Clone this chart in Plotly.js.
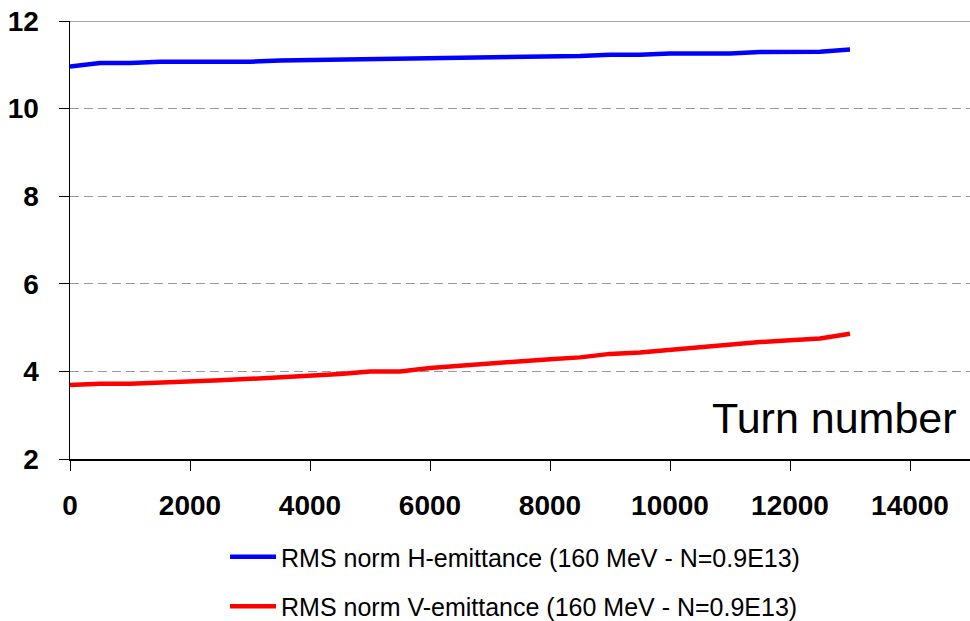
<!DOCTYPE html>
<html>
<head>
<meta charset="utf-8">
<script src="https://cdn.plot.ly/plotly-3.0.1.min.js"></script>
<style>
html,body{margin:0;padding:0;background:#fff;}
#chart{width:970px;height:621px;}
</style>
</head>
<body>
<div id="chart"></div>
<script>
const turns = [0,500,1000,1500,2000,2500,3000,3500,4000,4500,5000,5500,6000,6500,7000,7500,8000,8500,9000,9500,10000,10500,11000,11500,12000,12500,13000];
const hEmit = [10.96,11.04,11.04,11.07,11.07,11.07,11.07,11.10,11.11,11.11,11.14,11.14,11.14,11.17,11.17,11.17,11.20,11.20,11.23,11.23,11.26,11.26,11.26,11.29,11.29,11.30,11.35];
const vEmit = [3.69,3.72,3.72,3.755,3.77,3.80,3.83,3.86,3.89,3.94,4.00,4.00,4.08,4.13,4.18,4.25,4.28,4.32,4.40,4.43,4.49,4.56,4.60,4.67,4.71,4.75,4.86];
const seriesNames = ["RMS norm H-emittance (160 MeV - N=0.9E13)", "RMS norm V-emittance (160 MeV - N=0.9E13)"];
const axisLabel = "Turn number";

const FONT = '"Liberation Sans", Arial, sans-serif';

const traces = [
  {x: turns, y: hEmit, name: seriesNames[0], type: 'scatter', mode: 'lines',
   line: {color: '#0000FF', width: 4.5}, legendgroup: 'h'},
  {x: turns, y: vEmit, name: seriesNames[1], type: 'scatter', mode: 'lines',
   line: {color: '#FF0000', width: 4.5}, legendgroup: 'v'}
];

const layout = {
  width: 970, height: 621,
  margin: {l: 70, r: 0, t: 21, b: 162, autoexpand: false},
  paper_bgcolor: '#fff', plot_bgcolor: '#fff',
  font: {family: FONT, color: '#000'},
  xaxis: {
    range: [0, 15000], dtick: 2000, tick0: 0, tickformat: 'd',
    showgrid: false, zeroline: false, automargin: false,
    showline: true, linecolor: '#000', linewidth: 1.5,
    ticks: 'outside', ticklen: 10, tickcolor: '#000', tickwidth: 1,
    ticklabelstandoff: 11, tickangle: 0,
    tickfont: {family: FONT, size: 28, color: '#000', weight: 'bold'}
  },
  yaxis: {
    range: [2, 12], dtick: 2, tick0: 2, automargin: false,
    showgrid: true, gridcolor: '#999', griddash: '9px,5px', gridwidth: 1,
    zeroline: false,
    showline: true, linecolor: '#000', linewidth: 1.5,
    ticks: 'outside', ticklen: 10, tickcolor: '#000', tickwidth: 1,
    ticklabelstandoff: 14,
    tickfont: {family: FONT, size: 28, color: '#000', weight: 'bold'}
  },
  shapes: [
    {type: 'line', xref: 'paper', yref: 'y', x0: 0, x1: 1, y0: 12, y1: 12,
     line: {color: '#888', width: 1.5}}
  ],
  annotations: [
    {text: axisLabel, xref: 'paper', yref: 'y', x: (959 - 70) / 900, y: 2.93,
     xanchor: 'right', yanchor: 'middle', showarrow: false,
     font: {family: FONT, size: 43, color: '#000'}}
  ],
  showlegend: true,
  legend: {
    xref: 'container', yref: 'container',
    x: 225 / 970, y: 1 - 534 / 621, xanchor: 'left', yanchor: 'top',
    orientation: 'v', traceorder: 'grouped', tracegroupgap: 14,
    itemwidth: 46,
    font: {family: FONT, size: 25, color: '#000'},
    bgcolor: 'rgba(0,0,0,0)'
  }
};

Plotly.newPlot('chart', traces, layout, {displayModeBar: false, staticPlot: true});
</script>
</body>
</html>
